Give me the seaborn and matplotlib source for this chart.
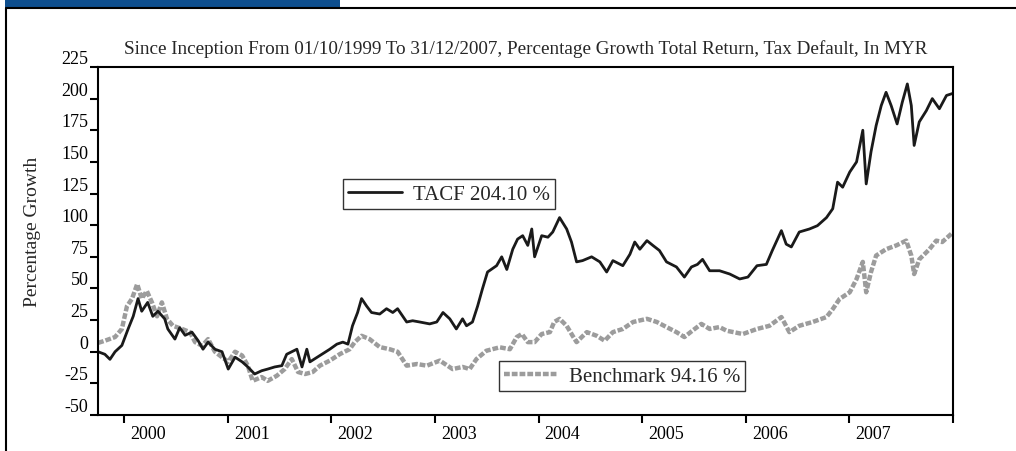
import pandas as pd
import matplotlib.pyplot as plt
import matplotlib.transforms as mtransforms
from matplotlib.lines import Line2D
from matplotlib.patches import Rectangle
import seaborn as sns

# Values (percentage growth since inception)
tacf_dates = [
    "1999-10-01", "1999-10-25", "1999-11-12", "1999-11-30", "1999-12-24", "2000-01-15",
    "2000-02-02", "2000-02-19", "2000-03-03", "2000-03-24", "2000-04-11", "2000-04-29",
    "2000-05-23", "2000-06-03", "2000-06-28", "2000-07-15", "2000-08-03", "2000-08-27",
    "2000-09-18", "2000-10-05", "2000-10-23", "2000-11-16", "2000-12-11", "2001-01-02",
    "2001-01-26", "2001-02-20", "2001-03-12", "2001-04-05", "2001-04-30", "2001-05-21",
    "2001-06-15", "2001-07-10", "2001-07-27", "2001-08-14", "2001-09-01", "2001-09-19",
    "2001-10-06", "2001-10-17", "2001-11-21", "2001-12-26", "2002-01-20", "2002-02-10",
    "2002-02-28", "2002-03-16", "2002-04-03", "2002-04-17", "2002-05-05", "2002-05-22",
    "2002-06-20", "2002-07-14", "2002-08-05", "2002-08-22", "2002-09-23", "2002-10-14",
    "2002-11-08", "2002-12-13", "2003-01-07", "2003-01-29", "2003-02-22", "2003-03-17",
    "2003-04-08", "2003-04-22", "2003-05-13", "2003-05-31", "2003-06-17", "2003-07-05",
    "2003-08-06", "2003-08-24", "2003-09-11", "2003-10-02", "2003-10-19", "2003-11-06",
    "2003-11-24", "2003-12-08", "2003-12-18", "2004-01-12", "2004-02-03", "2004-02-20",
    "2004-03-15", "2004-04-09", "2004-04-26", "2004-05-14", "2004-06-04", "2004-07-06",
    "2004-08-04", "2004-08-28", "2004-09-19", "2004-10-24", "2004-11-18", "2004-12-05",
    "2004-12-23", "2005-01-17", "2005-02-07", "2005-03-02", "2005-03-27", "2005-05-01",
    "2005-05-29", "2005-06-23", "2005-07-14", "2005-08-01", "2005-08-26", "2005-09-30",
    "2005-11-05", "2005-12-10", "2006-01-08", "2006-02-09", "2006-03-14", "2006-04-04",
    "2006-05-06", "2006-05-23", "2006-06-10", "2006-07-08", "2006-08-13", "2006-09-10",
    "2006-10-12", "2006-11-03", "2006-11-20", "2006-12-08", "2007-01-02", "2007-01-26",
    "2007-02-17", "2007-03-01", "2007-03-18", "2007-04-05", "2007-04-23", "2007-05-10",
    "2007-05-28", "2007-06-18", "2007-07-06", "2007-07-24", "2007-08-07", "2007-08-17",
    "2007-09-04", "2007-09-29", "2007-10-20", "2007-11-14", "2007-12-09", "2007-12-31",
]
tacf_values = [
    0, -2, -6, 0, 5, 18,
    28, 42, 32, 39, 28, 32,
    26, 18, 10, 19, 13, 15.5,
    8.7, 2, 7.6, 2, 0, -13.7,
    -4.3, -8, -12, -17.6, -15, -13.7,
    -12, -11, -2, 0, 2, -12,
    2, -8, -3, 2, 6, 7.6,
    6, 20.5, 31, 42, 36, 31,
    29.8, 34, 31, 34, 23.5, 24.5,
    23.5, 22, 23.5, 31, 26, 18,
    26, 20.5, 23.5, 36, 49.6, 63,
    68, 75, 65, 81, 89, 91.7,
    84, 97, 75, 91.7, 90.5, 94.6,
    106, 97, 86.7, 71, 72, 75,
    71, 63, 72, 68, 77, 86.7,
    81, 87.8, 84, 80, 71, 67,
    59, 67, 69, 73, 64, 64,
    61.4, 57.5, 59, 68, 69, 80,
    95.7, 85, 82.8, 94.6, 97, 99.6,
    106, 113, 134, 130, 142, 150,
    175, 132.6, 158, 178.7, 194.5, 205,
    194.5, 180, 197, 211.6, 194.5, 163,
    181.6, 190.5, 200, 192, 202.5, 204.1,
]

bench_dates = [
    "1999-10-01", "1999-10-25", "1999-11-30", "1999-12-24", "2000-01-11", "2000-01-29",
    "2000-02-16", "2000-03-03", "2000-03-21", "2000-04-08", "2000-04-26", "2000-05-13",
    "2000-05-31", "2000-06-21", "2000-07-23", "2000-08-20", "2000-09-07", "2000-10-02",
    "2000-10-23", "2000-11-16", "2000-12-11", "2001-01-02", "2001-01-26", "2001-02-20",
    "2001-03-12", "2001-03-29", "2001-04-30", "2001-05-21", "2001-06-22", "2001-07-20",
    "2001-08-14", "2001-09-05", "2001-09-30", "2001-10-27", "2001-11-21", "2001-12-26",
    "2002-01-31", "2002-03-06", "2002-03-24", "2002-04-17", "2002-05-15", "2002-06-20",
    "2002-07-25", "2002-08-22", "2002-09-23", "2002-10-29", "2002-12-03", "2003-01-18",
    "2003-03-04", "2003-04-08", "2003-05-03", "2003-05-27", "2003-07-01", "2003-08-17",
    "2003-09-22", "2003-10-16", "2003-11-03", "2003-11-24", "2003-12-18", "2004-01-12",
    "2004-02-10", "2004-02-25", "2004-03-15", "2004-04-09", "2004-04-30", "2004-05-14",
    "2004-06-19", "2004-07-24", "2004-08-21", "2004-09-19", "2004-10-24", "2004-11-29",
    "2005-01-17", "2005-02-21", "2005-03-27", "2005-05-01", "2005-05-29", "2005-06-26",
    "2005-07-28", "2005-08-26", "2005-09-30", "2005-10-25", "2005-12-21", "2006-02-09",
    "2006-03-25", "2006-05-06", "2006-06-03", "2006-07-08", "2006-08-24", "2006-10-12",
    "2006-11-03", "2006-11-27", "2007-01-02", "2007-01-26", "2007-02-17", "2007-03-01",
    "2007-03-18", "2007-04-05", "2007-05-10", "2007-06-15", "2007-07-20", "2007-08-07",
    "2007-08-17", "2007-09-04", "2007-10-10", "2007-11-03", "2007-11-24", "2007-12-31",
]
bench_values = [
    7, 8.7, 11.6, 18, 36, 42,
    53.5, 42, 48, 39, 28, 39,
    26, 20.5, 18, 15.5, 7.6, 4.7,
    10, 0, -4.3, -8, 0, -3,
    -11, -23, -20, -23, -19, -13.7,
    -5.8, -16, -17.6, -16, -11, -7,
    -1.8, 2, 7.6, 12.6, 10, 3.7,
    2, 0, -11, -9.7, -11, -7,
    -13.7, -12, -13.7, -5.8, 0.8, 3.5,
    2, 11.6, 14, 7.6, 7.6, 14,
    15.5, 23.5, 26, 20.5, 12.6, 7.6,
    15.5, 12.6, 8.7, 15.5, 18, 23.5,
    26, 23.5, 19.5, 15.5, 11.6, 16.6,
    22, 18, 19.5, 16.6, 14, 18,
    20.5, 27.4, 15.5, 20.5, 23.5, 27.4,
    33.7, 41.7, 47, 57.5, 71, 47,
    63, 76, 81, 84, 87.8, 76,
    61.4, 73, 81, 87.8, 86.7, 94.16,
]

year_ticks = ["2000", "2001", "2002", "2003", "2004", "2005", "2006", "2007", "2008"]
year_labels = ["2000", "2001", "2002", "2003", "2004", "2005", "2006", "2007", ""]
y_ticks = [-50, -25, 0, 25, 50, 75, 100, 125, 150, 175, 200, 225]

tacf = pd.DataFrame({"date": pd.to_datetime(tacf_dates), "growth": tacf_values})
bench = pd.DataFrame({"date": pd.to_datetime(bench_dates), "growth": bench_values})

sns.set_style("ticks")
plt.rcParams["font.family"] = ["Liberation Serif", "DejaVu Serif"]
plt.rcParams["axes.unicode_minus"] = False

fig = plt.figure(figsize=(10.16, 4.52), dpi=100)
ax = fig.add_axes([0.0965, 0.0796, 0.8415, 0.77])

sns.lineplot(data=bench, x="date", y="growth", ax=ax, color="#9c9c9c",
             linewidth=3.2, label="Benchmark 94.16 %")
sns.lineplot(data=tacf, x="date", y="growth", ax=ax, color="#1a1a1a",
             linewidth=2.0, label="TACF 204.10 %")
bench_line, tacf_line = ax.get_lines()[0], ax.get_lines()[1]
bench_line.set_linestyle((0, (1.3, 0.45)))

ax.set_xlim(pd.Timestamp("1999-10-01"), pd.Timestamp("2007-12-31"))
ax.set_ylim(-50, 225)
ax.set_yticks(y_ticks)
ax.set_xticks(pd.to_datetime(year_ticks))
ax.set_xticklabels(year_labels)
ax.set_xlabel("")
ax.set_ylabel("Percentage Growth", fontsize=14)
ax.yaxis.set_label_coords(-0.067, 0.53)
ax.set_title("Since Inception From 01/10/1999 To 31/12/2007, Percentage Growth "
             "Total Return, Tax Default, In MYR", fontsize=13.8, pad=10)

for s in ax.spines.values():
    s.set_color("black")
    s.set_linewidth(1.5)
ax.tick_params(axis="both", direction="out", length=6, width=1.5,
               colors="black", labelsize=13, pad=1)
plt.setp(ax.get_yticklabels(), va="bottom")
offset = mtransforms.ScaledTranslation(6 / 100, 0, fig.dpi_scale_trans)
for lab in ax.get_xticklabels():
    lab.set_ha("left")
    lab.set_transform(lab.get_transform() + offset)

leg_kw = dict(frameon=True, fancybox=False, edgecolor="black", fontsize=15,
              handlelength=2.6, handletextpad=0.5, borderpad=0.25,
              borderaxespad=0, loc="upper left")
leg1 = ax.legend(handles=[tacf_line], labels=["TACF 204.10 %"],
                 bbox_to_anchor=(0.2865, 0.678), **leg_kw)
leg1.get_frame().set_linewidth(1.0)
ax.add_artist(leg1)
leg2 = ax.legend(handles=[bench_line], labels=["Benchmark 94.16 %"],
                 bbox_to_anchor=(0.469, 0.155), **leg_kw)
leg2.get_frame().set_linewidth(1.0)

# outer frame and blue header bar
fig.add_artist(Rectangle((5 / 1016, 1 - 8 / 452), 335 / 1016, 8 / 452,
                         transform=fig.transFigure, color="#0d4e8e", lw=0))
fig.add_artist(Line2D([6 / 1016, 1], [1 - 9 / 452] * 2, color="black", lw=1.5))
fig.add_artist(Line2D([6 / 1016] * 2, [0, 1 - 9 / 452], color="black", lw=1.5))

fig.savefig("out.png", dpi=100)
